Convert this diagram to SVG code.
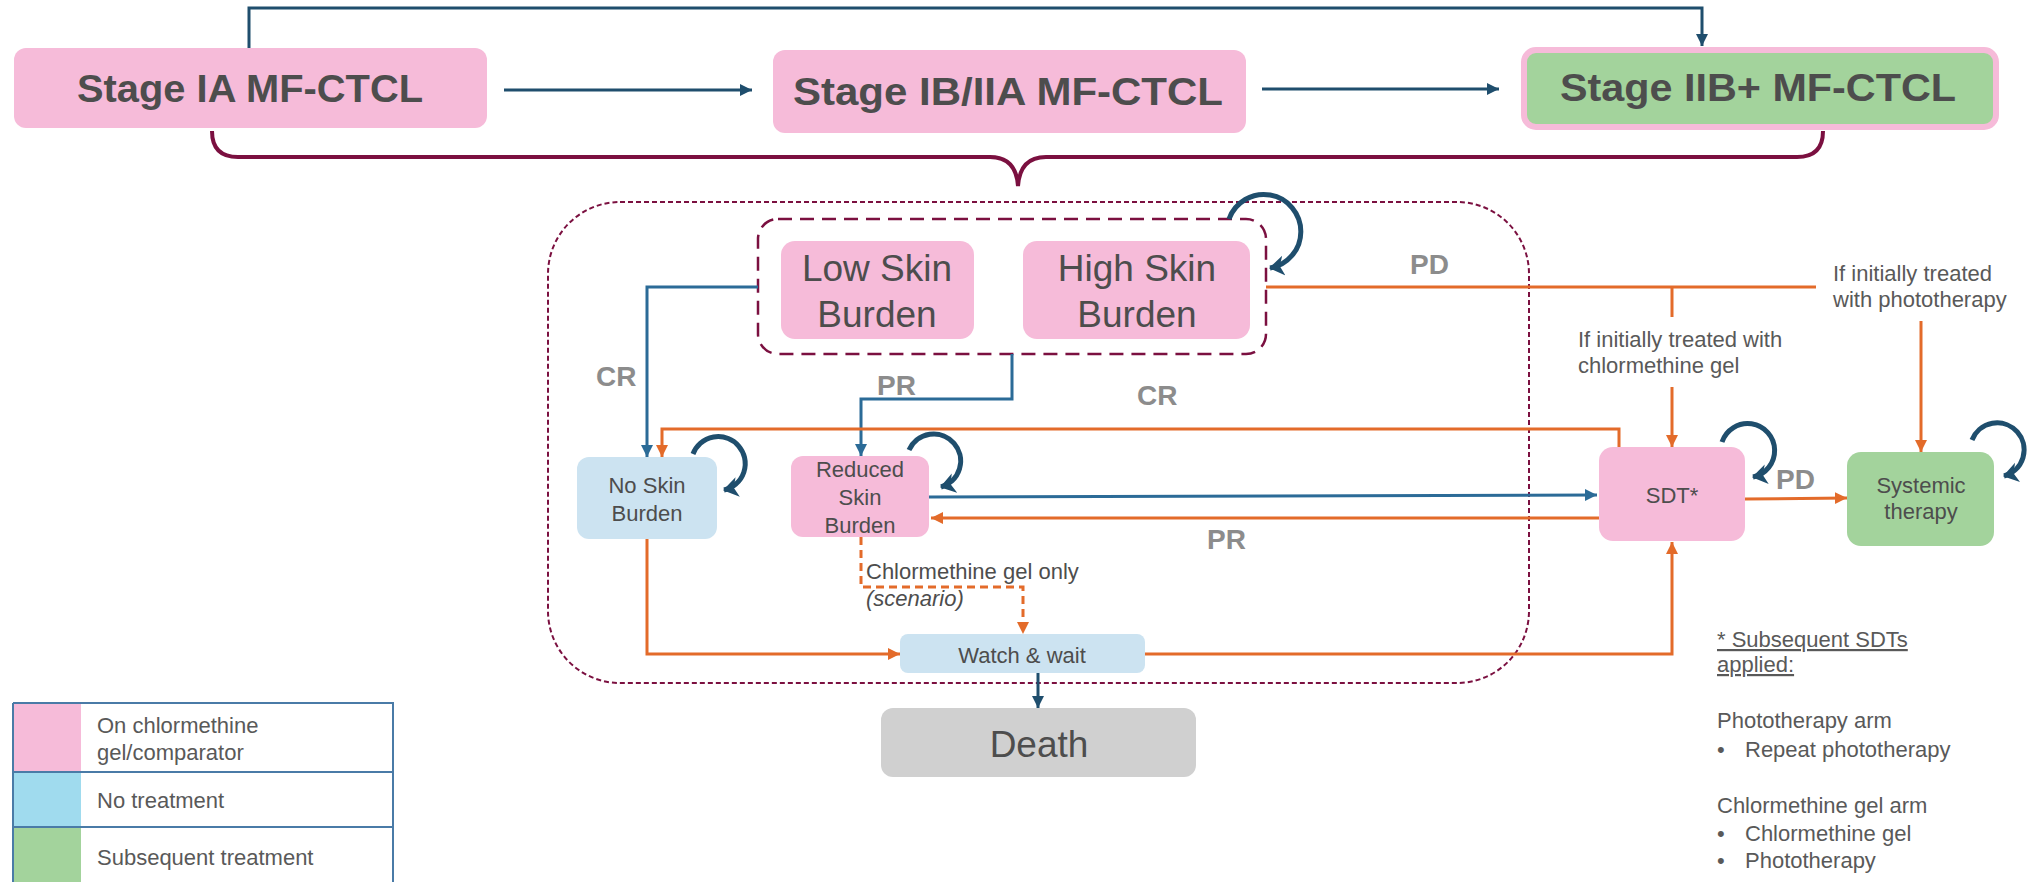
<svg xmlns="http://www.w3.org/2000/svg" width="2036" height="882" viewBox="0 0 2036 882">
<style>
text{font-family:"Liberation Sans",Arial,sans-serif;fill:#4d4d4d}
.title{font-size:39px;font-weight:bold;text-anchor:middle}
.big{font-size:37px;text-anchor:middle}
.sm{font-size:22px;text-anchor:middle}
.note{font-size:22px;fill:#595959}
.lab{font-size:28px;font-weight:bold;fill:#8c8c8c}
.pink{fill:#f6bbd9}
.blue{fill:#cce3f1}
.green{fill:#a3d39c}
.cn{fill:none;stroke-width:3}
.db{stroke:#1f4e6d}
.mb{stroke:#2b6b97}
.or{stroke:#e36b2a}
.loop{fill:none;stroke:#1f4e6d;stroke-width:5;marker-end:url(#aloop)}
</style>
<defs>
<marker id="adb" markerUnits="userSpaceOnUse" markerWidth="14" markerHeight="14" refX="12" refY="6" orient="auto"><path d="M0,0 L12,6 L0,12 z" fill="#1f4e6d"/></marker>
<marker id="amb" markerUnits="userSpaceOnUse" markerWidth="14" markerHeight="14" refX="12" refY="6" orient="auto"><path d="M0,0 L12,6 L0,12 z" fill="#2b6b97"/></marker>
<marker id="aor" markerUnits="userSpaceOnUse" markerWidth="14" markerHeight="14" refX="12" refY="6" orient="auto"><path d="M0,0 L12,6 L0,12 z" fill="#e36b2a"/></marker>
<marker id="aloop" markerUnits="userSpaceOnUse" markerWidth="20" markerHeight="22" refX="14" refY="10" orient="auto"><path d="M0,0 L15,10 L0,20 L4,10 z" fill="#1f4e6d"/></marker>
</defs>

<!-- containers -->
<g id="outer-region">
<rect x="548" y="202" width="981" height="481" rx="72" fill="none" stroke="#7b1040" stroke-width="2" stroke-dasharray="5 3"/>
</g>
<g id="skin-burden-group">
<rect x="758" y="219" width="508" height="135" rx="20" fill="none" stroke="#7b1040" stroke-width="2.5" stroke-dasharray="14 8"/>
</g>
<g id="brace">
<path d="M212,131 Q212,157 238,157 L990,157 Q1016,157 1018,186 Q1020,157 1046,157 L1797,157 Q1823,157 1823,131" fill="none" stroke="#7b1040" stroke-width="4"/>
</g>

<!-- nodes -->
<g id="stage-ia">
<rect x="14" y="48" width="473" height="80" rx="12" class="pink"/>
<text x="250" y="102" class="title" textLength="346" lengthAdjust="spacingAndGlyphs">Stage IA MF-CTCL</text>
</g>
<g id="stage-ib-iia">
<rect x="773" y="50" width="473" height="83" rx="12" class="pink"/>
<text x="1008" y="105" class="title" textLength="430" lengthAdjust="spacingAndGlyphs">Stage IB/IIA MF-CTCL</text>
</g>
<g id="stage-iib">
<rect x="1524" y="50" width="472" height="77" rx="12" class="green" stroke="#f6bbd9" stroke-width="6"/>
<text x="1758" y="101" class="title" textLength="396" lengthAdjust="spacingAndGlyphs">Stage IIB+ MF-CTCL</text>
</g>
<g id="low-skin">
<rect x="781" y="241" width="193" height="98" rx="14" class="pink"/>
<text x="877" y="281" class="big">Low Skin</text>
<text x="877" y="327" class="big">Burden</text>
</g>
<g id="high-skin">
<rect x="1023" y="241" width="227" height="98" rx="14" class="pink"/>
<text x="1137" y="281" class="big">High Skin</text>
<text x="1137" y="327" class="big">Burden</text>
</g>
<g id="no-skin">
<rect x="577" y="457" width="140" height="82" rx="12" class="blue"/>
<text x="647" y="493" class="sm">No Skin</text>
<text x="647" y="521" class="sm">Burden</text>
</g>
<g id="reduced-skin">
<rect x="791" y="456" width="138" height="81" rx="12" class="pink"/>
<text x="860" y="477" class="sm">Reduced</text>
<text x="860" y="505" class="sm">Skin</text>
<text x="860" y="533" class="sm">Burden</text>
</g>
<g id="sdt">
<rect x="1599" y="447" width="146" height="94" rx="14" class="pink"/>
<text x="1672" y="503" class="sm">SDT*</text>
</g>
<g id="systemic">
<rect x="1847" y="452" width="147" height="94" rx="14" class="green"/>
<text x="1921" y="493" class="sm">Systemic</text>
<text x="1921" y="519" class="sm">therapy</text>
</g>
<g id="watch-wait">
<rect x="900" y="634" width="245" height="39" rx="8" class="blue"/>
<text x="1022" y="663" class="sm">Watch &amp; wait</text>
</g>
<g id="death">
<rect x="881" y="708" width="315" height="69" rx="12" fill="#d0d0d0"/>
<text x="1039" y="757" class="big">Death</text>
</g>

<!-- connectors -->
<g id="connectors">
<path class="cn db" d="M249,48 L249,8 L1702,8 L1702,46" marker-end="url(#adb)"/>
<path class="cn db" d="M504,90 L752,90" marker-end="url(#adb)"/>
<path class="cn db" d="M1262,89 L1499,89" marker-end="url(#adb)"/>
<path class="cn mb" d="M758,287 L647,287 L647,457" marker-end="url(#amb)"/>
<path class="cn mb" d="M1012,354 L1012,399 L861,399 L861,456" marker-end="url(#amb)"/>
<path class="cn mb" d="M929,497 L1597,495" marker-end="url(#amb)"/>
<path class="cn or" d="M1619,447 L1619,429 L662,429 L662,457" marker-end="url(#aor)"/>
<path class="cn or" d="M1599,518 L931,518" marker-end="url(#aor)"/>
<path class="cn or" d="M1266,287 L1816,287"/>
<path class="cn or" d="M1672,287 L1672,317"/>
<path class="cn or" d="M1672,387 L1672,447" marker-end="url(#aor)"/>
<path class="cn or" d="M1921,321 L1921,452" marker-end="url(#aor)"/>
<path class="cn or" d="M1745,499 L1847,498" marker-end="url(#aor)"/>
<path class="cn or" d="M647,539 L647,654 L900,654" marker-end="url(#aor)"/>
<path class="cn or" d="M1145,654 L1672,654 L1672,542" marker-end="url(#aor)"/>
<path class="cn or" d="M861,537 L861,587 L1023,587 L1023,634" stroke-dasharray="8 5" marker-end="url(#aor)"/>
<path class="cn db" d="M1038,673 L1038,708" marker-end="url(#adb)"/>
<path class="loop" d="M1229,219 A37,37 0 1 1 1270,268"/>
<path class="loop" d="M693,454 A27,27 0 1 1 724,490"/>
<path class="loop" d="M909,450 A27,27 0 1 1 941,487"/>
<path class="loop" d="M1722,442 A27,27 0 1 1 1753,477"/>
<path class="loop" d="M1972,440 A27,27 0 1 1 2004,476"/>
</g>

<!-- labels -->
<g id="labels">
<text x="596" y="386" class="lab">CR</text>
<text x="877" y="395" class="lab">PR</text>
<text x="1137" y="405" class="lab">CR</text>
<text x="1207" y="549" class="lab">PR</text>
<text x="1410" y="274" class="lab">PD</text>
<text x="1776" y="489" class="lab">PD</text>
<text x="1833" y="281" class="note">If initially treated</text>
<text x="1833" y="307" class="note">with phototherapy</text>
<text x="1578" y="347" class="note">If initially treated with</text>
<text x="1578" y="373" class="note">chlormethine gel</text>
<text x="866" y="579" class="note" style="fill:#4d4d4d">Chlormethine gel only</text>
<text x="866" y="606" class="note" style="fill:#4d4d4d;font-style:italic">(scenario)</text>
</g>

<!-- legend -->
<g id="legend">
<rect x="13" y="703" width="68" height="69" fill="#f6bbd9"/>
<rect x="13" y="772" width="68" height="55" fill="#a0dbee"/>
<rect x="13" y="827" width="68" height="60" fill="#a3d39c"/>
<path d="M13,703 L393,703 L393,887 M13,703 L13,887 M13,772 L393,772 M13,827 L393,827" fill="none" stroke="#4a7ba7" stroke-width="2"/>
<text x="97" y="733" class="note">On chlormethine</text>
<text x="97" y="760" class="note">gel/comparator</text>
<text x="97" y="808" class="note">No treatment</text>
<text x="97" y="865" class="note">Subsequent treatment</text>
</g>

<!-- footnote -->
<g id="footnote">
<text x="1717" y="647" class="note" text-decoration="underline">* Subsequent SDTs</text>
<text x="1717" y="672" class="note" text-decoration="underline">applied:</text>
<text x="1717" y="728" class="note">Phototherapy arm</text>
<text x="1717" y="757" class="note">•</text>
<text x="1745" y="757" class="note">Repeat phototherapy</text>
<text x="1717" y="813" class="note">Chlormethine gel arm</text>
<text x="1717" y="841" class="note">•</text>
<text x="1745" y="841" class="note">Chlormethine gel</text>
<text x="1717" y="868" class="note">•</text>
<text x="1745" y="868" class="note">Phototherapy</text>
</g>
</svg>
